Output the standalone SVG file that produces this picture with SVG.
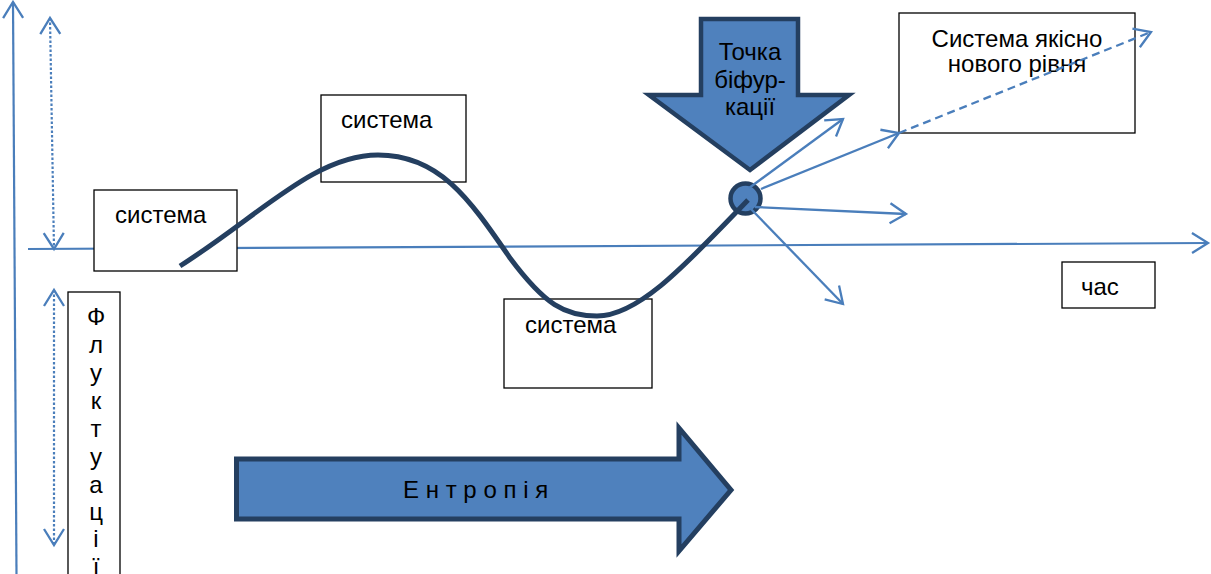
<svg xmlns="http://www.w3.org/2000/svg" width="1211" height="574" viewBox="0 0 1211 574">
<style>
.ax{fill:none;stroke:#4a7ebb;stroke-width:2.2}
.dot{fill:none;stroke:#4a7ebb;stroke-width:2.2;stroke-dasharray:2.5 2}
.ray{fill:none;stroke:#4a7ebb;stroke-width:2.3}
.box{fill:#fff;stroke:#000;stroke-width:1.3}
.t{font-family:"Liberation Sans",Arial,sans-serif;font-size:24px;fill:#000}
.big{fill:#4f81bd;stroke:#243f60;stroke-linejoin:miter}
</style>
<defs>
<marker id="ah" markerUnits="userSpaceOnUse" markerWidth="40" markerHeight="40" viewBox="-20 -20 40 40" refX="0" refY="0" orient="auto-start-reverse" overflow="visible">
<path d="M-16,-10 L0,0 L-16,10" fill="none" stroke="#4a7ebb" stroke-width="2.3"/>
</marker>
</defs>
<g id="axes">
<path class="ax" d="M16.5,574 L13,2" marker-end="url(#ah)"/>
<path class="ax" d="M28,249 L1208,243" marker-end="url(#ah)"/>
<path class="dot" d="M50,18 L54,249" marker-start="url(#ah)" marker-end="url(#ah)"/>
<path class="dot" d="M54,290 L54,545" marker-start="url(#ah)" marker-end="url(#ah)"/>
</g>
<g id="box-system-1"><rect class="box" x="94" y="190" width="143" height="81"/><text class="t" x="115" y="223">система</text></g>
<g id="box-system-2"><rect class="box" x="321" y="95" width="145" height="87"/><text class="t" x="341" y="128">система</text></g>
<g id="box-system-3"><rect class="box" x="504" y="299" width="148" height="89"/><text class="t" x="525" y="333">система</text></g>
<g id="box-time"><rect class="box" x="1062" y="262" width="93" height="46"/><text class="t" x="1081" y="295">час</text></g>
<g id="box-new-level"><rect class="box" x="899" y="13" width="236" height="120"/><text class="t" x="1017" y="47" text-anchor="middle">Система якісно</text><text class="t" x="1017" y="72" text-anchor="middle">нового рівня</text></g>
<g id="box-fluctuations"><rect class="box" x="68" y="292" width="52" height="300"/>
<text class="t" x="96" text-anchor="middle" font-size="23"><tspan x="96" y="325">Ф</tspan><tspan x="96" y="353">л</tspan><tspan x="96" y="381">у</tspan><tspan x="96" y="409">к</tspan><tspan x="96" y="437">т</tspan><tspan x="96" y="465">у</tspan><tspan x="96" y="493">а</tspan><tspan x="96" y="520">ц</tspan><tspan x="96" y="547">і</tspan><tspan x="96" y="575">ї</tspan></text></g>
<g id="entropy-arrow"><path class="big" stroke-width="5" d="M236.5,459 L679,459 L679,428 L731,490 L679,551 L679,519 L236.5,519 Z"/><text class="t" x="403" y="498" font-size="23" letter-spacing="6.7">Ентропія</text></g>
<g id="bifurcation-arrow"><path class="big" stroke-width="4.5" d="M701,19 L798,19 L798,95 L849,95 L750,170 L649,95 L701,95 Z"/><text class="t" x="750" y="60" text-anchor="middle">Точка</text><text class="t" x="750" y="88" text-anchor="middle">біфур-</text><text class="t" x="750" y="115" text-anchor="middle">кації</text></g>
<g id="bifurcation-point"><circle cx="745.5" cy="198.5" r="15" fill="#4f81bd" stroke="#243f60" stroke-width="4.5"/></g>
<g id="system-curve"><path d="M180,266 C260,215 315,155 378,155 C440,155 470,200 510,258 C545,305 565,316 597,316 C640,316 690,260 748,200" fill="none" stroke="#243f60" stroke-width="5"/></g>
<g id="connectors">
<path class="ray" d="M749,188 L843,119" marker-end="url(#ah)"/>
<path class="ray" d="M761,189 L899,133" stroke-width="2.8" marker-end="url(#ah)"/>
<path class="ray" d="M899,133 L1151,32" stroke-width="2.5" stroke-dasharray="8 5" marker-end="url(#ah)"/>
<path class="ray" d="M755,207 L906,214" marker-end="url(#ah)"/>
<path class="ray" d="M750,208 L843,304" marker-end="url(#ah)"/>
</g>
</svg>
